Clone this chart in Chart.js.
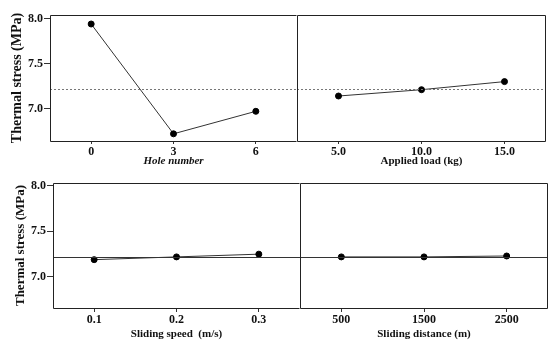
<!DOCTYPE html>
<html>
<head>
<meta charset="utf-8">
<script src="https://cdn.jsdelivr.net/npm/chart.js@4.4.0/dist/chart.umd.min.js"></script>
<style>
  body { margin: 0; background: #fff; }
  .box { position: absolute; }
</style>
</head>
<body>
<div class="box" style="left:0;top:0"><canvas id="hole" width="297" height="170"></canvas></div>
<div class="box" style="left:297px;top:0"><canvas id="load" width="252" height="170"></canvas></div>
<div class="box" style="left:0;top:170px"><canvas id="speed" width="300" height="173"></canvas></div>
<div class="box" style="left:300px;top:170px"><canvas id="dist" width="249" height="173"></canvas></div>
<script>
// values
var holeLabels = ['0', '3', '6'];
var holeStress = [7.94, 6.72, 6.97];
var loadLabels = ['5.0', '10.0', '15.0'];
var loadStress = [7.14, 7.21, 7.30];
var speedLabels = ['0.1', '0.2', '0.3'];
var speedStress = [7.19, 7.22, 7.25];
var distLabels = ['500', '1500', '2500'];
var distStress = [7.22, 7.22, 7.23];
var yTicks = [7.0, 7.5, 8.0];
var meanStress = 7.22;

var serif = '"Liberation Serif", "Times New Roman", serif';

// frame round the plot + the mean line
var framePlugin = {
  id: 'frame',
  afterDatasetsDraw: function (chart, args, opts) {
    var a = chart.chartArea, c = chart.ctx;
    var y = Math.round(chart.scales.y.getPixelForValue(meanStress)) + 0.5;
    c.save();
    c.strokeStyle = opts.meanColor;
    c.lineWidth = 1;
    c.setLineDash(opts.meanDash);
    c.beginPath();
    c.moveTo(a.left, y);
    c.lineTo(a.right, y);
    c.stroke();
    c.setLineDash([]);
    c.strokeStyle = '#222';
    c.beginPath();
    var l = Math.round(a.left) + 0.5, r = Math.round(a.right) - 0.5;
    var t = Math.round(a.top) + 0.5, b = Math.round(a.bottom) + 0.5;
    c.moveTo(r, t); c.lineTo(l, t); c.lineTo(l, b); c.lineTo(r, b);
    if (opts.right) { c.moveTo(r, t); c.lineTo(r, b); }
    c.stroke();
    c.restore();
  }
};

function makeChart(id, labels, values, cfg) {
  return new Chart(document.getElementById(id), {
    type: 'line',
    data: {
      labels: labels,
      datasets: [{
        data: values,
        borderColor: '#333',
        borderWidth: 1,
        pointBackgroundColor: '#000',
        pointBorderColor: '#000',
        pointRadius: 3,
        tension: 0
      }]
    },
    options: {
      responsive: false,
      animation: false,
      devicePixelRatio: 1,
      layout: { autoPadding: false, padding: { top: cfg.top, left: cfg.padLeft, right: cfg.padRight, bottom: 0 } },
      plugins: {
        legend: { display: false },
        tooltip: { enabled: false },
        frame: { meanColor: cfg.meanColor, meanDash: cfg.meanDash, right: cfg.right }
      },
      scales: {
        x: {
          offset: true,
          grid: { drawOnChartArea: false, tickLength: cfg.xTick, color: '#333' },
          border: { display: false },
          ticks: { color: '#111', padding: 1, font: { family: serif, size: 12, weight: 'bold' } },
          title: {
            display: true, text: cfg.xTitle, color: '#111',
            padding: { top: 2, bottom: 2 },
            font: { family: serif, size: 11, weight: 'bold', style: cfg.italic ? 'italic' : 'normal' }
          },
          afterFit: function (s) { s.height = cfg.xHeight; }
        },
        y: {
          display: cfg.showY,
          min: cfg.yMin,
          max: cfg.yMax,
          afterBuildTicks: function (s) { s.ticks = yTicks.map(function (v) { return { value: v }; }); },
          grid: { drawOnChartArea: false, tickLength: 6, color: '#333' },
          border: { display: false },
          ticks: {
            color: '#111', padding: 1,
            font: { family: serif, size: 12, weight: 'bold' },
            callback: function (v) { return Number(v).toFixed(1); }
          },
          title: {
            display: true, text: 'Thermal stress (MPa)', color: '#111',
            padding: { top: cfg.yTitlePad, bottom: 0 },
            font: { family: serif, size: cfg.yTitleSize, weight: 'bold' }
          },
          afterFit: function (s) { s.width = cfg.yWidth; }
        }
      }
    },
    plugins: [framePlugin]
  });
}

var topRow = { top: 15, xHeight: 29, xTick: 3, yMin: 6.64, yMax: 8.04, meanColor: '#777', meanDash: [2, 2] };
var botRow = { top: 13, xHeight: 35, xTick: 4, yMin: 6.66, yMax: 8.03, meanColor: '#333', meanDash: [] };

makeChart('hole', holeLabels, holeStress, Object.assign({}, topRow, {
  xTitle: 'Hole number', italic: true, showY: true, yWidth: 50, padLeft: 0, padRight: 0,
  yTitleSize: 14, yTitlePad: 9, right: false
}));
makeChart('load', loadLabels, loadStress, Object.assign({}, topRow, {
  xTitle: 'Applied load (kg)', italic: false, showY: false, yWidth: 0, padLeft: 0, padRight: 3,
  yTitleSize: 14, yTitlePad: 0, right: true
}));
makeChart('speed', speedLabels, speedStress, Object.assign({}, botRow, {
  xTitle: 'Sliding speed  (m/s)', italic: false, showY: true, yWidth: 53, padLeft: 0, padRight: 0,
  yTitleSize: 13, yTitlePad: 13, right: false
}));
makeChart('dist', distLabels, distStress, Object.assign({}, botRow, {
  xTitle: 'Sliding distance (m)', italic: false, showY: false, yWidth: 0, padLeft: 0, padRight: 1,
  yTitleSize: 13, yTitlePad: 0, right: true
}));
</script>
</body>
</html>
